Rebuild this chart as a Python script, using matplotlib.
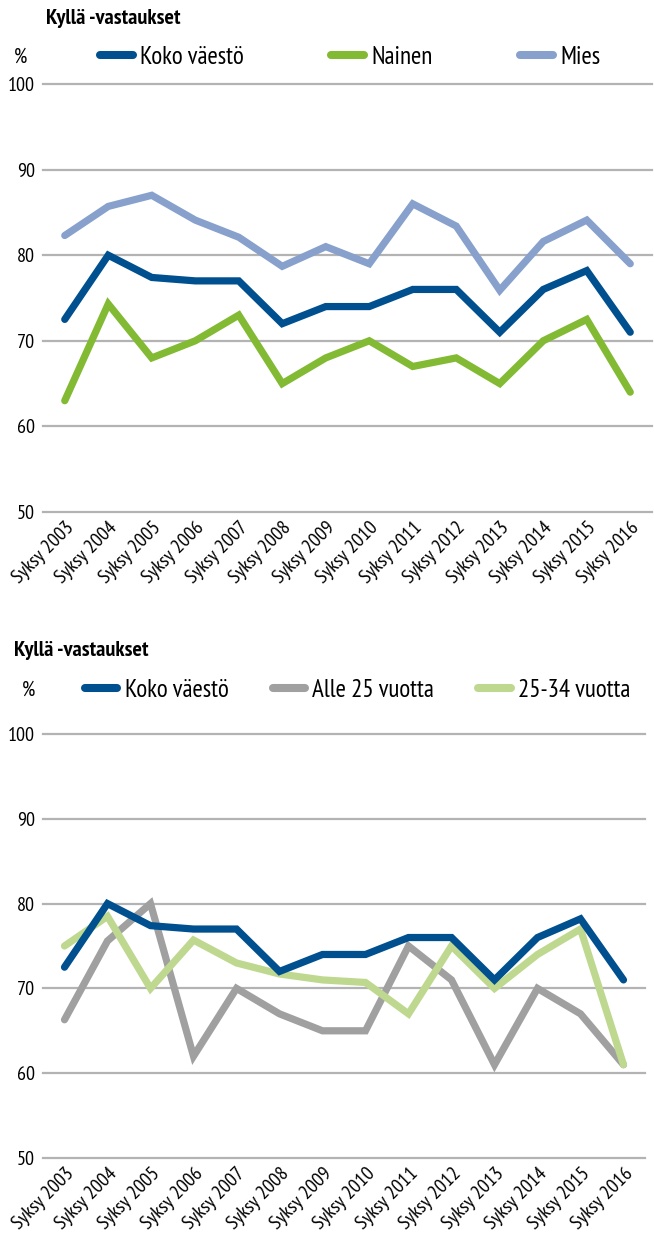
import matplotlib.pyplot as plt
from matplotlib.transforms import ScaledTranslation

plt.rcParams['font.family'] = ['PT Sans Narrow', 'Roboto Condensed', 'DejaVu Sans']

years = ['Syksy %d' % y for y in range(2003, 2017)]

koko = [72.5, 80, 77.4, 77, 77, 72, 74, 74, 76, 76, 71, 76, 78.2, 71]
nainen = [63, 74.3, 68, 70, 73, 65, 68, 70, 67, 68, 65, 70, 72.5, 64]
mies = [82.3, 85.7, 87, 84.1, 82.1, 78.7, 81, 79, 86, 83.4, 75.9, 81.6, 84.1, 79]
alle25 = [66.3, 75.6, 80, 62, 70, 67, 65, 65, 75, 71, 61, 70, 67, 61]
v25_34 = [75, 78.5, 70, 75.7, 73, 71.7, 71, 70.7, 67, 75, 70, 74, 77, 61]

fig = plt.figure(figsize=(6.54, 12.38), dpi=100)


def panel(rect, series, order, title_xy, pct_xy, legend_anchor, colspace):
    ax = fig.add_axes(rect)
    x = range(len(years))
    lines = []
    for vals, color, label in series:
        ln, = ax.plot(x, vals, color=color, lw=5.2, label=label,
                      solid_capstyle='round', solid_joinstyle='miter')
        lines.append(ln)
    ax.set_xlim(-0.5, 13.5)
    ax.set_ylim(50, 100)
    ax.set_yticks(range(50, 101, 10))
    ax.set_xticks(list(x))
    ax.set_xticklabels(years, rotation=45, ha='right', rotation_mode='anchor',
                       fontsize=14.5)
    shift = ScaledTranslation(0.07, 0, fig.dpi_scale_trans)
    for lab in ax.get_xticklabels():
        lab.set_transform(lab.get_transform() + shift)
    ax.tick_params(axis='y', length=0, pad=6, labelsize=14.5)
    ax.tick_params(axis='x', length=0, pad=5)
    for s in ax.spines.values():
        s.set_visible(False)
    ax.yaxis.grid(True, color='#b3b3b3', lw=1.6)
    ax.set_axisbelow(True)
    for line in ax.get_ygridlines():
        line.set_clip_on(False)
    fig.text(title_xy[0] / 654, 1 - title_xy[1] / 1238, 'Kyllä -vastaukset',
             fontsize=16, fontweight='bold', va='center', ha='left')
    fig.text(pct_xy[0] / 654, 1 - pct_xy[1] / 1238, '%', fontsize=15,
             va='center', ha='left')
    hs = [lines[i] for i in order]
    leg = ax.legend(hs, [h.get_label() for h in hs], loc='center left', ncol=3,
                    frameon=False, fontsize=18,
                    bbox_to_anchor=(legend_anchor[0] / 654, 1 - legend_anchor[1] / 1238),
                    bbox_transform=fig.transFigure, handlelength=1.3,
                    handletextpad=0.3, columnspacing=colspace, borderaxespad=0,
                    borderpad=0)
    for h in leg.get_lines():
        h.set_linewidth(5.8)
    return ax


panel([43 / 654, 1 - 512 / 1238, 609 / 654, 428 / 1238],
      [(koko, '#00508f', 'Koko väestö'),
       (nainen, '#82ba33', 'Nainen'),
       (mies, '#87a1cc', 'Mies')],
      [0, 1, 2], (46, 18), (14, 57), (100, 57), 3.5)

panel([43 / 654, 1 - 1158 / 1238, 602 / 654, 424 / 1238],
      [(alle25, '#a0a0a0', 'Alle 25 vuotta'),
       (v25_34, '#bed98f', '25-34 vuotta'),
       (koko, '#00508f', 'Koko väestö')],
      [2, 0, 1], (14, 650), (22, 690), (85, 690), 1.75)

fig.savefig('out.png', dpi=100)
